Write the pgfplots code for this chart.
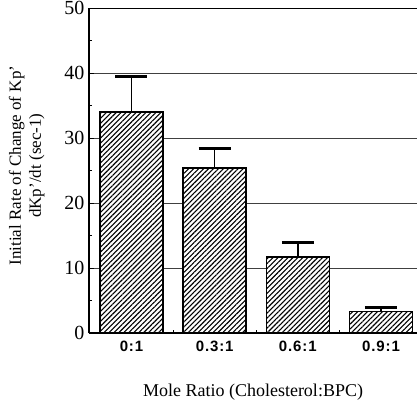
\documentclass[border=0pt]{standalone}
\usepackage{fontspec}
\setmainfont{Liberation Serif}
\newfontfamily\tickfont{Liberation Sans}[LetterSpace=6]
\usepackage{pgfplots}
\pgfplotsset{compat=1.18}
\usetikzlibrary{patterns.meta}
\pgfplotstableread{
x y e
0 34.0 5.5
1 25.4 3.0
2 11.7 2.3
3 3.3 0.7
}\datatable
\begin{document}
\begin{tikzpicture}
\begin{axis}[
  scale only axis, width=328pt, height=325pt,
  xmin=-0.511, xmax=3.433, ymin=0, ymax=50,
  ybar, bar width=63pt,
  axis x line=bottom, axis y line=left,
  axis line style={-, line width=1.6pt},
  xtick={0,1,2,3}, xticklabels={0:1,0.3:1,0.6:1,0.9:1},
  major x tick style={draw=none},
  minor xtick={0.5,1.5,2.5},
  ytick={0,10,20,30,40,50}, minor ytick={5,15,25,35,45},
  tick align=inside,
  major tick length=5pt, minor tick length=3pt,
  tick style={black, line width=1pt},
  ymajorgrids, grid style={black!75, line width=0.8pt},
  /pgf/number format/assume math mode=true,
  yticklabel style={font=\fontsize{20}{22}\selectfont, xshift=-1pt},
  xticklabel style={font=\tickfont\bfseries\fontsize{15}{17}\selectfont, yshift=-4pt},
  xlabel={Mole Ratio (Cholesterol:BPC)},
  xlabel style={at={(axis description cs:0.5,-0.182)}, anchor=center, font=\fontsize{18}{20}\selectfont},
  ylabel={Initial Rate of Change of Kp'\\dKp'/dt (sec-1)},
  ylabel style={at={(axis description cs:-0.19,0.515)}, anchor=center, align=center, font=\fontsize{17}{20}\selectfont},
]
\addplot[draw=black, line width=1.4pt, fill=white,
  postaction={pattern={Lines[angle=45,distance=3.5pt,line width=1.1pt]}},
  error bars/.cd, y dir=plus, y explicit,
  error mark=|,
  error bar style={line width=1.5pt},
  error mark options={/tikz/line width=3pt, mark size=16pt}]
  table[x=x, y=y, y error=e] {\datatable};
\draw[line width=1.3pt] (rel axis cs:0,1) -- (rel axis cs:1,1);
\end{axis}
\pgfresetboundingbox
\path[use as bounding box] (-89pt,-69pt) rectangle (328pt,333pt);
\end{tikzpicture}
\end{document}
